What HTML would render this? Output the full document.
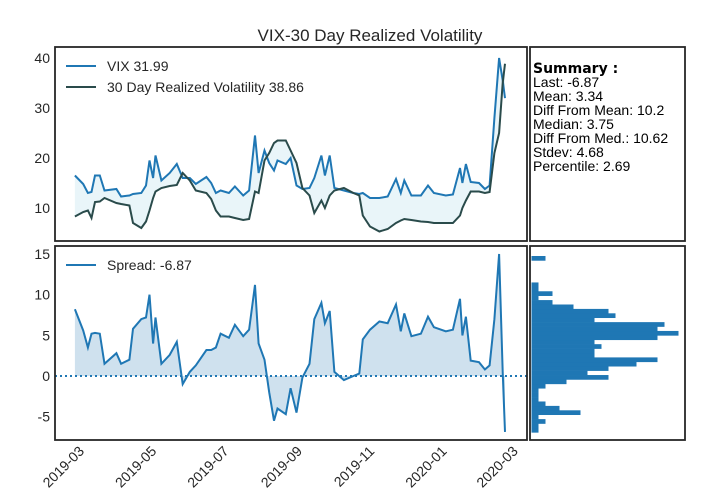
<!DOCTYPE html>
<html><head><meta charset="utf-8"><style>
body{margin:0;background:#fff;}
svg{display:block;font-family:"Liberation Sans",sans-serif;}
</style></head><body>
<svg id="chart" width="716" height="495">
<text x="370" y="41" text-anchor="middle" font-size="17" fill="#262626">VIX-30 Day Realized Volatility</text>
<g id="topg"></g><g id="botg"></g><g id="histg"></g>
<rect x="55" y="47" width="472" height="194" fill="none" stroke="#262626" stroke-width="1.8"/>
<rect x="55" y="246" width="472" height="194" fill="none" stroke="#262626" stroke-width="1.8"/>
<rect x="530" y="47" width="155" height="194" fill="none" stroke="#262626" stroke-width="1.8"/>
<rect x="530" y="246" width="155" height="194" fill="none" stroke="#262626" stroke-width="1.8"/>
<g font-size="14" fill="#000">
<text x="533" y="73" font-family="DejaVu Sans,sans-serif" font-weight="bold" font-size="14">Summary :</text>
<text x="533" y="87">Last: -6.87</text>
<text x="533" y="101">Mean: 3.34</text>
<text x="533" y="115">Diff From Mean: 10.2</text>
<text x="533" y="129">Median: 3.75</text>
<text x="533" y="143">Diff From Med.: 10.62</text>
<text x="533" y="157">Stdev: 4.68</text>
<text x="533" y="171">Percentile: 2.69</text>
</g>
</svg>
<script>
const dates=["2019-02-23","2019-03-02","2019-03-06","2019-03-09","2019-03-12","2019-03-16","2019-03-20","2019-03-30","2019-04-03","2019-04-10","2019-04-13","2019-04-20","2019-04-24","2019-04-27","2019-04-30","2019-05-02","2019-05-07","2019-05-14","2019-05-20","2019-05-25","2019-05-31","2019-06-05","2019-06-14","2019-06-18","2019-06-22","2019-06-26","2019-07-03","2019-07-08","2019-07-15","2019-07-20","2019-07-25","2019-07-28","2019-08-02","2019-08-06","2019-08-10","2019-08-13","2019-08-20","2019-08-24","2019-08-29","2019-09-03","2019-09-09","2019-09-13","2019-09-19","2019-09-22","2019-09-26","2019-09-30","2019-10-08","2019-10-16","2019-10-21","2019-10-24","2019-10-30","2019-11-07","2019-11-14","2019-11-21","2019-11-25","2019-11-28","2019-12-04","2019-12-12","2019-12-18","2019-12-23","2020-01-02","2020-01-08","2020-01-14","2020-01-16","2020-01-19","2020-01-23","2020-01-30","2020-02-04","2020-02-08","2020-02-12","2020-02-16","2020-02-19","2020-02-21"];
const vix=[16.5,14.8,13.0,13.2,16.5,16.5,13.5,13.8,12.3,12.5,12.8,13.0,14.5,19.5,16.0,20.5,15.5,17.0,18.8,16.0,16.0,14.8,16.2,15.0,13.0,13.5,13.0,14.3,12.5,13.5,24.5,17.0,21.5,19.0,17.5,19.5,18.8,20.0,14.5,13.8,14.0,16.0,20.5,16.5,20.5,14.0,13.5,13.0,12.8,13.0,12.0,12.0,12.3,15.8,13.0,15.5,12.5,12.5,14.5,13.0,12.5,12.7,18.0,15.0,18.8,15.2,15.0,13.8,14.5,28.0,40.0,35.5,31.99];
const rv=[8.3,9.2,9.5,8.0,11.2,11.3,12.0,11.0,10.8,10.5,7.0,6.0,7.3,9.5,12.0,13.3,14.0,14.4,14.6,17.0,15.5,13.5,13.0,11.8,9.5,8.3,8.3,8.0,7.6,7.8,13.3,13.0,19.5,21.0,23.0,23.5,23.5,21.5,19.0,14.0,12.5,9.0,11.5,10.0,12.5,13.5,14.0,13.0,12.5,8.5,6.3,5.3,5.8,7.0,7.5,7.8,7.6,7.3,7.2,7.0,7.0,7.0,8.5,10.0,11.5,13.3,13.3,13.0,13.2,21.0,25.0,35.0,38.86];
const topTicks=[10,20,30,40];
const botTicks=[-5,0,5,10,15];
const xTickLabels=["2019-03","2019-05","2019-07","2019-09","2019-11","2020-01","2020-03"];
const histCounts=[1,1,2,1,7,4,2,1,1,1,2,5,11,8,11,15,18,9,9,10,9,18,21,18,19,9,12,11,6,3,1,3,1,1,0,0,0,0,0,2];
const histMin=-6.93, histMax=14.76;

const NS="http://www.w3.org/2000/svg";
function mk(tag,attrs,parent){const e=document.createElementNS(NS,tag);for(const k in attrs)e.setAttribute(k,attrs[k]);parent.appendChild(e);return e;}
const t0=Date.UTC(2019,2,1);
function dayOf(s){const p=s.split("-");return (Date.UTC(+p[0],+p[1]-1,+p[2])-t0)/864e5;}
const X=s=>82+1.185*dayOf(s);
const YT=v=>258-5*v;
const YB=v=>376-8.13*v;
const spread=vix.map((v,i)=>v-rv[i]);
const gTop=document.getElementById('topg'),gBot=document.getElementById('botg'),gHist=document.getElementById('histg');
const C1="#1f77b4",C2="#2a4b4b";
function pts(arr,Y){return dates.map((d,i)=>X(d).toFixed(1)+","+Y(arr[i]).toFixed(1));}
let fp=pts(vix,YT).concat(pts(rv,YT).reverse());
let f=mk('polygon',{points:fp.join(" "),fill:"#e3f2f8",opacity:"0.8"},gTop);


let l1=mk('polyline',{points:pts(vix,YT).join(" "),fill:"none",stroke:C1,"stroke-width":2},gTop);


let l2=mk('polyline',{points:pts(rv,YT).join(" "),fill:"none",stroke:C2,"stroke-width":2},gTop);


topTicks.forEach(v=>{let t=mk('text',{x:50,y:YT(v)+5,"text-anchor":"end","font-size":14,fill:"#262626"},gTop);t.textContent=v;

});
let lg=mk('g',{},gTop);


mk('line',{x1:66,y1:66,x2:96,y2:66,stroke:C1,"stroke-width":2},lg);
let lt=mk('text',{x:107,y:71,"font-size":14,fill:"#262626"},lg);lt.textContent="VIX 31.99";
mk('line',{x1:66,y1:87,x2:96,y2:87,stroke:C2,"stroke-width":2},lg);
let lt2=mk('text',{x:107,y:92,"font-size":14,fill:"#262626"},lg);lt2.textContent="30 Day Realized Volatility 38.86";
let bp=pts(spread,YB).concat([X(dates[dates.length-1]).toFixed(1)+","+YB(0),X(dates[0]).toFixed(1)+","+YB(0)]);
let bf=mk('polygon',{points:bp.join(" "),fill:"#cfe1ee"},gBot);


let zl=mk('line',{x1:55,x2:527,y1:YB(0),y2:YB(0),stroke:C1,"stroke-width":2,"stroke-dasharray":"2,3"},gBot);


let sl=mk('polyline',{points:pts(spread,YB).join(" "),fill:"none",stroke:C1,"stroke-width":2},gBot);


botTicks.forEach(v=>{let t=mk('text',{x:50,y:YB(v)+5,"text-anchor":"end","font-size":14,fill:"#262626"},gBot);t.textContent=v;

});
xTickLabels.forEach(s=>{const x=X(s+"-01");let t=mk('text',{x:x+3,y:452,"text-anchor":"end","font-size":14,fill:"#262626",transform:`rotate(-45 ${x+3} 452)`},gBot);t.textContent=s;

});
let bl=mk('g',{},gBot);


mk('line',{x1:66,y1:265,x2:96,y2:265,stroke:C1,"stroke-width":2},bl);
let bt=mk('text',{x:107,y:270,"font-size":14,fill:"#262626"},bl);bt.textContent="Spread: -6.87";
const bw=(histMax-histMin)/histCounts.length;
histCounts.forEach((c,i)=>{if(!c)return;const lo=histMin+i*bw,hi=lo+bw;
let r=mk('rect',{x:531.5,y:YB(hi),width:c*7,height:YB(lo)-YB(hi)+0.3,fill:C1},gHist);

});
</script>
</body></html>
